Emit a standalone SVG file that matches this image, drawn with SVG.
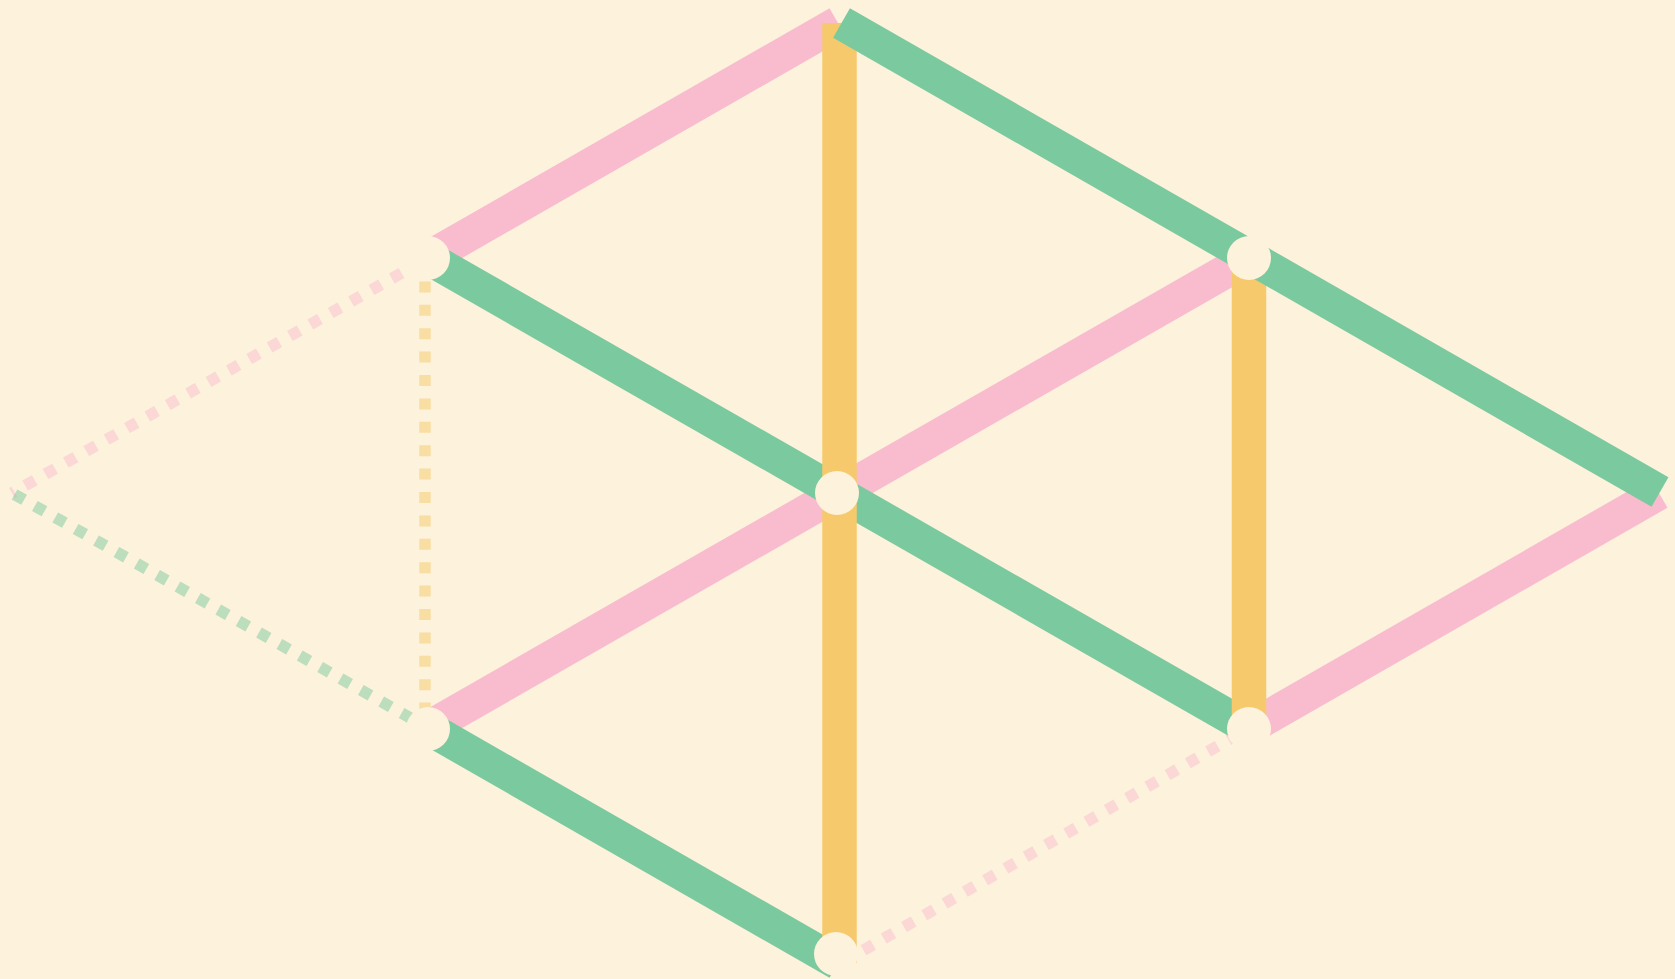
<svg xmlns="http://www.w3.org/2000/svg" width="1675" height="979" viewBox="0 0 1675 979">
  <style>
    .bg { fill: #FDF2DC; }
    .pink { stroke: #F9BCCF; stroke-width: 34; fill: none; stroke-linecap: butt; }
    .green { stroke: #7BC99E; stroke-width: 34; fill: none; stroke-linecap: butt; }
    .yellow { stroke: #F6CA6C; stroke-width: 34.5; fill: none; stroke-linecap: butt; }
    .dot { stroke-width: 11.5; fill: none; stroke-dasharray: 11 12.4; stroke-linecap: butt; stroke-opacity: 0.5; }
    .node { fill: #FDF2DC; }
  </style>
  <rect class="bg" x="0" y="0" width="1675" height="979"/>
  <g id="connectors">
    <!-- dotted connectors -->
    <line class="dot" stroke="#F6CA6C" x1="425" y1="258" x2="425" y2="728"/>
    <line class="dot" stroke="#F9BCCF" x1="428" y1="258" x2="12" y2="493" stroke-dashoffset="16.3"/>
    <line class="dot" stroke="#7BC99E" x1="428" y1="728" x2="12" y2="493" stroke-dashoffset="4.1"/>
    <line class="dot" stroke="#F9BCCF" x1="1249" y1="728" x2="838" y2="965" stroke-dashoffset="10.6"/>
    <!-- pink solid -->
    <line class="pink" x1="428" y1="258" x2="838" y2="23"/>
    <line class="pink" x1="428" y1="728" x2="1249" y2="258"/>
    <line class="pink" x1="1249" y1="728" x2="1659" y2="493"/>
    <!-- green solid -->
    <line class="green" x1="428" y1="258" x2="1249" y2="728"/>
    <line class="green" x1="428" y1="728" x2="838" y2="963"/>
    <!-- yellow solid -->
    <line class="yellow" x1="839.5" y1="23" x2="839.5" y2="963"/>
    <line class="yellow" x1="1249" y1="258" x2="1249" y2="728"/>
    <!-- green top line -->
    <line class="green" x1="841.5" y1="23" x2="1660" y2="492"/>
  </g>
  <g id="node-a"><circle class="node" cx="428" cy="258" r="22"/></g>
  <g id="node-b"><circle class="node" cx="1249" cy="258" r="22"/></g>
  <g id="node-c"><circle class="node" cx="837" cy="493" r="22"/></g>
  <g id="node-d"><circle class="node" cx="1249" cy="729" r="22"/></g>
  <g id="node-e"><circle class="node" cx="836" cy="954" r="22"/></g>
  <g id="node-f"><circle class="node" cx="428" cy="729" r="22"/></g>
</svg>
